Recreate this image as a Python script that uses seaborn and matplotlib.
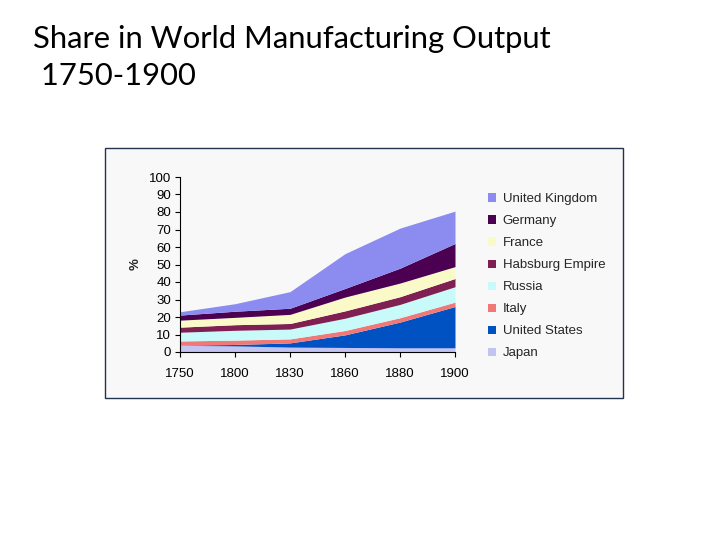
import matplotlib
matplotlib.use("Agg")
import matplotlib.pyplot as plt
import matplotlib.patches as mpatches
import seaborn as sns
import pandas as pd

years = ["1750", "1800", "1830", "1860", "1880", "1900"]
countries = ["Japan", "United States", "Italy", "Russia", "Habsburg Empire",
             "France", "Germany", "United Kingdom"]
japan = [3.8, 3.5, 2.8, 2.6, 2.4, 2.4]
united_states = [0.1, 0.8, 2.4, 7.2, 14.7, 23.6]
italy = [2.4, 2.5, 2.3, 2.5, 2.5, 2.5]
russia = [5.0, 5.6, 5.6, 7.0, 7.6, 8.8]
habsburg = [2.9, 3.2, 3.2, 4.2, 4.4, 4.7]
france = [4.0, 4.2, 5.2, 7.9, 7.8, 6.8]
germany = [2.9, 3.5, 3.5, 4.9, 8.5, 13.2]
united_kingdom = [1.9, 4.3, 9.5, 19.9, 22.9, 18.5]
y_ticks = [0, 10, 20, 30, 40, 50, 60, 70, 80, 90, 100]

colors = {
    "Japan": "#c4c4f2",
    "United States": "#0052c2",
    "Italy": "#f27878",
    "Russia": "#c8fafa",
    "Habsburg Empire": "#7f1f52",
    "France": "#fafac8",
    "Germany": "#4b0052",
    "United Kingdom": "#8c8cf0",
}

df = pd.DataFrame({
    "Japan": japan, "United States": united_states, "Italy": italy,
    "Russia": russia, "Habsburg Empire": habsburg, "France": france,
    "Germany": germany, "United Kingdom": united_kingdom,
}, index=years)

sns.set_theme(style="ticks")
plt.rcParams["font.family"] = ["Liberation Sans", "DejaVu Sans"]

fig = plt.figure(figsize=(7.28, 5.46), dpi=100)
fig.patch.set_facecolor("white")

# outer chart box
box = mpatches.Rectangle((105 / 728, 1 - 398 / 546), (623 - 105) / 728, (398 - 148) / 546,
                         transform=fig.transFigure, facecolor="#f8f8f8",
                         edgecolor="#22334f", linewidth=1.0, zorder=-5)
fig.patches.append(box)

title_font = ["Lato", "DejaVu Sans"]
fig.text(33 / 728, 1 - 48 / 546, "Share in World Manufacturing Output",
         fontsize=22.3, family=title_font, color="black", ha="left", va="baseline")
fig.text(33 / 728, 1 - 85 / 546, " 1750-1900",
         fontsize=22.3, family=title_font, color="black", ha="left", va="baseline")

ax = fig.add_axes([180 / 728, 1 - 352 / 546, (455 - 180) / 728, (352 - 177) / 546])
ax.set_facecolor("#f8f8f8")
x = list(range(len(years)))
ax.stackplot(x, [df[c].values for c in countries],
             colors=[colors[c] for c in countries], linewidth=0)
ax.set_xlim(0, len(years) - 1)
ax.set_ylim(0, 100)
ax.set_xticks(x)
ax.set_xticklabels(years)
ax.set_yticks(y_ticks)
ax.set_yticklabels([str(v) for v in y_ticks])
ax.tick_params(axis="both", labelsize=9.5, length=3.5, width=0.8, color="black",
               labelcolor="black", pad=3)
ax.tick_params(axis="x", pad=8)
for s in ["top", "right"]:
    ax.spines[s].set_visible(False)
for s in ["left", "bottom"]:
    ax.spines[s].set_color("black")
    ax.spines[s].set_linewidth(0.8)
ax.set_ylabel("%", fontsize=9.5, labelpad=5, fontweight="bold")
ax.grid(False)

handles = [mpatches.Patch(facecolor=colors[c], edgecolor="none", label=c)
           for c in reversed(countries)]
fig.legend(handles=handles, loc="upper left",
           bbox_to_anchor=(483 / 728, 1 - 188 / 546), frameon=False,
           fontsize=9.5, handlelength=0.6, handleheight=0.6,
           handletextpad=0.5, labelspacing=0.76, borderaxespad=0)

fig.savefig("out.png", dpi=100, facecolor="white")
